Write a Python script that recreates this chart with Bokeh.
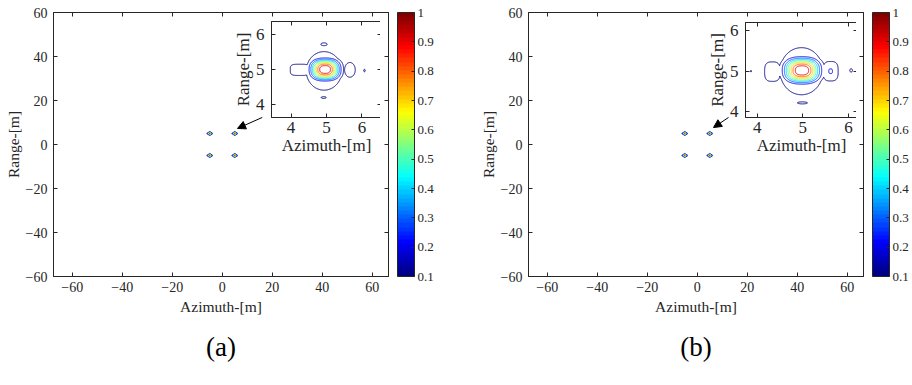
import numpy as np
from bokeh.plotting import figure
from bokeh.models import (Range1d, LinearAxis, FixedTicker, ColorBar, LinearColorMapper,
                          Arrow, NormalHead, Title)
from bokeh.layouts import row, column
from bokeh.embed import file_html
from bokeh.resources import INLINE

# ---------------- data ----------------
target_az = [-5.0, 5.0, -5.0, 5.0]
target_rg = [5.0, 5.0, -5.0, -5.0]
contour_levels = [0.1, 0.2, 0.3, 0.4, 0.5, 0.6, 0.7, 0.8, 0.9]
colorbar_ticks = [0.1, 0.2, 0.3, 0.4, 0.5, 0.6, 0.7, 0.8, 0.9, 1.0]
colorbar_tick_labels = ["0.1", "0.2", "0.3", "0.4", "0.5", "0.6", "0.7", "0.8", "0.9", "1"]
main_ticks = [-60, -40, -20, 0, 20, 40, 60]
inset_ticks = [4, 5, 6]

# coarse full-scene response of each target (1 m sampling):
# half-width / half-height of the 0.1 contour, shape exponent
scene_psf_w = [1.05]
scene_psf_h = [0.50]
scene_psf_p = [2.5]

# lobes of the response of the target at (5, 5), panel (a):
# azimuth, range, peak, half-width / half-height of the 0.1 contour, shape exponent
a_lobe_az = [4.96, 4.93, 4.25, 5.66, 4.93, 4.92, 6.07]
a_lobe_rg = [5.00, 4.96, 4.99, 4.99, 5.72, 4.20, 4.97]
a_lobe_peak = [1.0, 0.17, 0.15, 0.15, 0.11, 0.11, 0.105]
a_lobe_w = [0.52, 0.50, 0.27, 0.15, 0.09, 0.07, 0.02]
a_lobe_h = [0.38, 0.55, 0.16, 0.21, 0.04, 0.025, 0.035]
a_lobe_p = [2.5, 2.0, 4.0, 2.0, 2.0, 2.0, 2.0]

# panel (b)
b_lobe_az = [4.98, 4.97, 4.33, 5.61, 3.86, 6.06, 4.99]
b_lobe_rg = [5.02, 5.00, 4.99, 5.00, 5.00, 5.02, 4.22]
b_lobe_peak = [1.0, 0.18, 0.14, 0.202, 0.103, 0.11, 0.11]
b_lobe_w = [0.50, 0.47, 0.17, 0.165, 0.012, 0.03, 0.11]
b_lobe_h = [0.39, 0.58, 0.24, 0.24, 0.02, 0.04, 0.025]
b_lobe_p = [2.5, 2.0, 3.0, 3.0, 2.0, 2.0, 2.0]

# arrow (tail -> tip), in metres
a_arrow = [16.0, 12.3, 6.1, 7.3]
b_arrow = [12.5, 12.3, 6.5, 7.7]

FONT = "Liberation Serif"
TXT = "#262626"


def jet(t):
    t = min(max(t, 0.0), 1.0)
    r = min(max(1.5 - abs(4 * t - 3), 0), 1)
    g = min(max(1.5 - abs(4 * t - 2), 0), 1)
    b = min(max(1.5 - abs(4 * t - 1), 0), 1)
    return "#%02x%02x%02x" % (int(round(r * 255)), int(round(g * 255)), int(round(b * 255)))


jet64 = [jet(i / 63) for i in range(64)]
lo, hi = colorbar_ticks[0], colorbar_ticks[-1]
level_colors = [jet((L - lo) / (hi - lo)) for L in contour_levels]


def field(X, Y, az, rg, peak, w, h, pw):
    Z = np.zeros_like(X)
    for cx, cy, A, ww, hh, pp in zip(az, rg, peak, w, h, pw):
        k = np.log(A / 0.1) ** (1.0 / pp)
        sx, sy = ww / k, hh / k
        Z = np.maximum(Z, A * np.exp(-(np.abs((X - cx) / sx) ** pp
                                       + np.abs((Y - cy) / sy) ** pp)))
    return Z


def style_axis(ax, size, label_size, standoff=5, label_standoff=4):
    ax.major_tick_in = 4
    ax.major_tick_out = 0
    ax.minor_tick_line_color = None
    ax.axis_line_color = TXT
    ax.major_tick_line_color = TXT
    ax.major_label_text_font = FONT
    ax.major_label_text_font_size = size
    ax.major_label_text_color = TXT
    ax.major_label_standoff = standoff
    ax.axis_label_text_font = FONT
    ax.axis_label_text_font_size = label_size
    ax.axis_label_text_font_style = "normal"
    ax.axis_label_text_color = TXT
    ax.axis_label_standoff = label_standoff


def tick_only_axis(ticks):
    ax = LinearAxis(ticker=FixedTicker(ticks=ticks),
                    major_label_overrides={t: "" for t in ticks},
                    major_label_standoff=0, major_tick_in=4, major_tick_out=0,
                    minor_tick_line_color=None, axis_line_color=TXT, major_tick_line_color=TXT)
    return ax


def make_main(arrow, label, right_border):
    p = figure(frame_width=335, frame_height=264,
               x_range=Range1d(-67.5, 66.5), y_range=Range1d(-60, 60),
               output_backend="svg", toolbar_location=None,
               min_border_left=53, min_border_right=right_border,
               min_border_top=12, min_border_bottom=109)
    p.grid.visible = False
    p.outline_line_color = TXT
    p.xaxis.ticker = FixedTicker(ticks=main_ticks)
    p.yaxis.ticker = FixedTicker(ticks=main_ticks)
    p.xaxis.axis_label = "Azimuth-[m]"
    p.yaxis.axis_label = "Range-[m]"
    style_axis(p.xaxis[0], "14px", "15.5px", 5, 3)
    style_axis(p.yaxis[0], "14px", "15.5px", 6, 1)
    p.add_layout(tick_only_axis(main_ticks), "above")
    p.add_layout(tick_only_axis(main_ticks), "right")

    xs = np.arange(-67.0, 66.0 + 1e-9, 1.0)
    ys = np.arange(-60.0, 60.0 + 1e-9, 1.0)
    X, Y = np.meshgrid(xs, ys)
    n = len(target_az)
    Z = field(X, Y, target_az, target_rg, [1.0] * n,
              scene_psf_w * n, scene_psf_h * n, scene_psf_p * n)
    p.contour(x=xs, y=ys, z=Z, levels=contour_levels, line_color=level_colors, line_width=0.8)

    p.add_layout(Arrow(end=NormalHead(size=8, fill_color="black", line_color="black", line_width=1),
                       x_start=arrow[0], y_start=arrow[1], x_end=arrow[2], y_end=arrow[3],
                       line_color="black", line_width=1))

    mapper = LinearColorMapper(palette=jet64, low=lo, high=hi)
    cb = ColorBar(color_mapper=mapper, ticker=FixedTicker(ticks=colorbar_ticks),
                  major_label_overrides={t: s for t, s in zip(colorbar_ticks, colorbar_tick_labels)},
                  width=17, padding=0, margin=0, label_standoff=3,
                  bar_line_color=TXT, major_tick_line_color=TXT,
                  major_tick_in=3, major_tick_out=0,
                  major_label_text_font=FONT, major_label_text_font_size="13px",
                  major_label_text_color=TXT, location=(9, 0))
    p.add_layout(cb, "right")

    p.add_layout(Title(text=label, align="center", text_font=FONT, text_font_size="27px",
                       text_font_style="normal", text_color="black", standoff=24), "below")
    return p


def make_inset(lobes, xr, yr, fw, fh):
    q = figure(frame_width=fw, frame_height=fh,
               x_range=Range1d(*xr), y_range=Range1d(*yr),
               output_backend="svg", toolbar_location=None,
               min_border_left=48, min_border_right=4, min_border_top=4, min_border_bottom=56,
               border_fill_alpha=0, background_fill_color="white")
    q.grid.visible = False
    q.outline_line_color = TXT
    q.xaxis.ticker = FixedTicker(ticks=inset_ticks)
    q.yaxis.ticker = FixedTicker(ticks=inset_ticks)
    q.xaxis.axis_label = "Azimuth-[m]"
    q.yaxis.axis_label = "Range-[m]"
    style_axis(q.xaxis[0], "17px", "17px", 4, 0)
    style_axis(q.yaxis[0], "17px", "17px", 7, 0)
    q.add_layout(tick_only_axis(inset_ticks), "above")
    q.add_layout(tick_only_axis(inset_ticks), "right")

    xs = np.arange(3.3, 6.7, 0.005)
    ys = np.arange(3.4, 6.6, 0.005)
    X, Y = np.meshgrid(xs, ys)
    Z = field(X, Y, *lobes)
    q.contour(x=xs, y=ys, z=Z, levels=contour_levels, line_color=level_colors, line_width=1)
    return q


a_lobes = (a_lobe_az, a_lobe_rg, a_lobe_peak, a_lobe_w, a_lobe_h, a_lobe_p)
b_lobes = (b_lobe_az, b_lobe_rg, b_lobe_peak, b_lobe_w, b_lobe_h, b_lobe_p)

main_a = make_main(a_arrow, "(a)", 87)
main_b = make_main(b_arrow, "(b)", 49)

inset_a = make_inset(a_lobes, (3.45, 6.55), (3.63, 6.37), 110, 96)
inset_b = make_inset(b_lobes, (3.74, 6.2), (3.86, 6.2), 112, 95)

H = 385
inset_a.margin = (17 - H, 0, H - 17 - (4 + 96 + 56), 218)
inset_b.margin = (18 - H, 0, H - 18 - (4 + 95 + 56), 217)

layout = row(column(main_a, inset_a), column(main_b, inset_b))

with open("out.html", "w") as f:
    f.write(file_html(layout, INLINE))
